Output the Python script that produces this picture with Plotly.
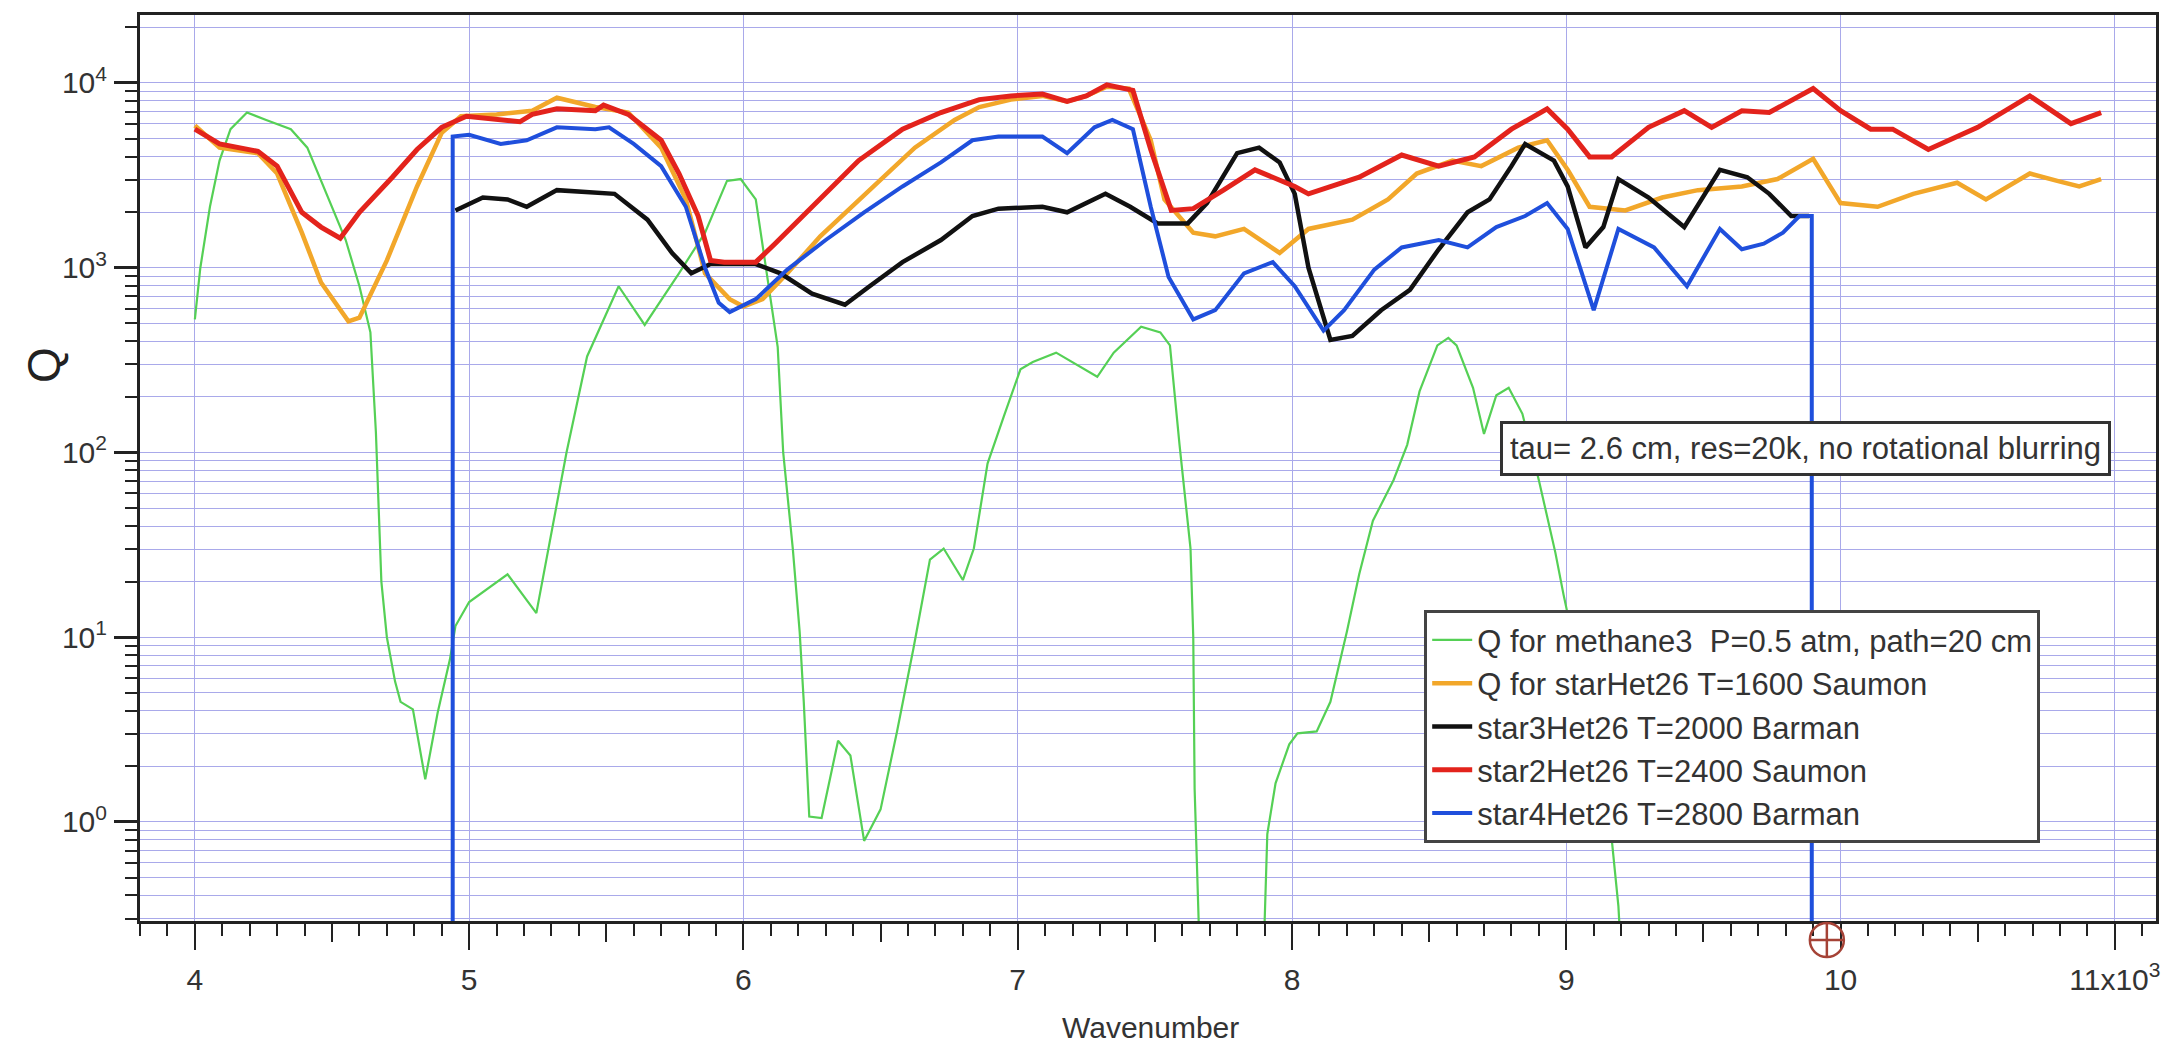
import plotly.graph_objects as go

# ---------------- data (wavenumber in cm^-1, Q) ----------------
green_x = [4000, 4020, 4055, 4090, 4130, 4190, 4260, 4350, 4410, 4455, 4500, 4550, 4600, 4640, 4660,
           4675, 4680, 4700, 4730, 4750, 4795, 4840, 4885, 4930, 4950, 5000, 5075, 5140, 5245, 5305,
           5355, 5430, 5545, 5640, 5765, 5860, 5940, 5990, 6045, 6125, 6145, 6180, 6205, 6220, 6240,
           6285, 6345, 6390, 6440, 6500, 6560, 6620, 6680, 6730, 6800, 6840, 6890, 6950, 7010, 7055,
           7140, 7290, 7350, 7450, 7520, 7555, 7590, 7630, 7640, 7645, 7680, 7880, 7910, 7940, 7990,
           8020, 8090, 8140, 8200, 8245, 8295, 8370, 8420, 8465, 8530, 8570, 8600, 8660, 8700, 8745,
           8790, 8840, 8900, 8960, 8990, 9080, 9160, 9190, 9230]
green_q = [525, 1000, 2138, 3802, 5623, 6918, 6310, 5623, 4467, 3090, 2138, 1413, 794, 447, 129,
           30.1, 20.0, 10.0, 5.75, 4.47, 4.07, 1.70, 3.89, 7.59, 11.5, 15.5, 18.6, 21.9, 13.5, 40.7,
           100, 331, 794, 490, 933, 1549, 2951, 3020, 2344, 372, 100, 30.2, 10.7, 4.47, 1.07,
           1.05, 2.75, 2.29, 0.79, 1.17, 3.09, 8.71, 26.3, 30.2, 20.4, 30.2, 87.1, 158, 282, 309,
           347, 257, 347, 479, 447, 380, 110, 30.2, 10.0, 1.51, 0.03, 0.03, 0.86, 1.62, 2.63,
           3.02, 3.09, 4.47, 10.7, 21.9, 42.7, 70.8, 110, 214, 380, 417, 380, 224, 126, 204,
           224, 162, 70.8, 28.8, 17.0, 4.0, 0.98, 0.35, 0.03]

orange_x = [4000, 4090, 4230, 4300, 4390, 4460, 4560, 4600, 4700, 4810, 4900, 4970, 5100, 5230, 5320,
            5460, 5580, 5700, 5790, 5860, 5950, 6000, 6070, 6160, 6280, 6395, 6510, 6625, 6770, 6860,
            6975, 7090, 7180, 7250, 7325, 7405, 7485, 7535, 7640, 7720, 7825, 7955, 8060, 8220, 8350,
            8455, 8585, 8690, 8825, 8930, 9005, 9085, 9215, 9350, 9480, 9640, 9770, 9900, 10000, 10135,
            10265, 10425, 10530, 10690, 10790, 10870, 10950]
orange_q = [5888, 4467, 4169, 3236, 1549, 832, 513, 537, 1096, 2754, 5370, 6607, 6761, 7079, 8318,
            7413, 6918, 4467, 2344, 933, 676, 617, 676, 933, 1479, 2138, 3090, 4467, 6310, 7413,
            8128, 8511, 7943, 8511, 9550, 9333, 4898, 2344, 1549, 1479, 1622, 1202, 1622, 1820, 2344,
            3236, 3802, 3548, 4467, 4898, 3388, 2138, 2042, 2399, 2630, 2754, 3020, 3890, 2239, 2138,
            2512, 2884, 2344, 3236, 2951, 2754, 3020]

black_x = [4950, 5050, 5140, 5210, 5320, 5460, 5530, 5650, 5740, 5810, 5880, 6045, 6135, 6250, 6370,
           6460, 6580, 6720, 6835, 6930, 7090, 7180, 7320, 7410, 7510, 7620, 7690, 7800, 7880, 7955,
           8010, 8060, 8140, 8220, 8325, 8430, 8535, 8640, 8720, 8800, 8850, 8955, 9005, 9070, 9135,
           9190, 9300, 9430, 9505, 9560, 9660, 9740, 9820, 9885]
black_q = [2042, 2399, 2344, 2138, 2630, 2570, 2512, 1820, 1202, 933, 1047, 1047, 933, 724, 631,
           794, 1072, 1413, 1905, 2089, 2138, 1995, 2512, 2138, 1738, 1738, 2239, 4169, 4467, 3715,
           2512, 1000, 407, 427, 589, 759, 1259, 1995, 2344, 3548, 4677, 3802, 2754, 1288, 1660,
           3020, 2399, 1660, 2512, 3388, 3090, 2512, 1905, 1905]

red_x = [4000, 4090, 4230, 4300, 4390, 4460, 4530, 4600, 4720, 4810, 4900, 4990, 5185, 5230, 5320,
         5460, 5490, 5580, 5700, 5765, 5835, 5880, 5930, 6045, 6115, 6280, 6420, 6580, 6720, 6860,
         6975, 7090, 7180, 7250, 7325, 7420, 7485, 7560, 7640, 7750, 7865, 8010, 8060, 8245, 8400,
         8535, 8665, 8800, 8930, 9005, 9085, 9165, 9300, 9430, 9530, 9640, 9740, 9900, 10000, 10110,
         10190, 10320, 10500, 10690, 10840, 10950]
red_q = [5623, 4677, 4266, 3548, 1995, 1660, 1445, 1995, 3090, 4365, 5754, 6607, 6166, 6761, 7244,
         7079, 7586, 6761, 4898, 3236, 1905, 1096, 1072, 1072, 1349, 2344, 3802, 5623, 6918, 8128,
         8511, 8710, 7943, 8511, 9772, 9120, 4365, 2042, 2089, 2630, 3388, 2754, 2512, 3090, 4074,
         3548, 3981, 5623, 7244, 5623, 3981, 3981, 5754, 7079, 5754, 7079, 6918, 9333, 7079, 5623,
         5623, 4365, 5754, 8511, 6026, 6918]

blue_x = [4940, 4940, 5000, 5115, 5210, 5320, 5460, 5510, 5600, 5700, 5790, 5860, 5910, 5950, 6045,
          6160, 6300, 6440, 6580, 6720, 6835, 6930, 7090, 7180, 7280, 7345, 7420, 7485, 7550, 7640,
          7720, 7825, 7930, 8010, 8115, 8190, 8300, 8400, 8535, 8640, 8745, 8850, 8930, 9005, 9100,
          9190, 9320, 9440, 9560, 9640, 9720, 9790, 9850, 9895, 9895]
blue_q = [0.001, 5129, 5248, 4677, 4898, 5754, 5623, 5754, 4677, 3548, 2138, 1000, 646, 575, 676,
          977, 1413, 1995, 2754, 3715, 4898, 5129, 5129, 4169, 5754, 6310, 5623, 2138, 891, 525,
          589, 933, 1072, 794, 457, 589, 977, 1288, 1413, 1288, 1660, 1905, 2239, 1622, 589,
          1622, 1288, 794, 1622, 1259, 1349, 1549, 1905, 1905, 0.001]

cursor_x = 9950   # graph cursor position (wavenumber)

names = ["Q for methane3  P=0.5 atm, path=20 cm",
         "Q for starHet26 T=1600 Saumon",
         "star3Het26 T=2000 Barman",
         "star2Het26 T=2400 Saumon",
         "star4Het26 T=2800 Barman"]

x_major = [4000, 5000, 6000, 7000, 8000, 9000, 10000, 11000]
x_major_text = ["4", "5", "6", "7", "8", "9", "10", "11x10<sup>3</sup>"]
y_major = [1, 10, 100, 1000, 10000]
y_major_text = ["10<sup>0</sup>", "10<sup>1</sup>", "10<sup>2</sup>", "10<sup>3</sup>", "10<sup>4</sup>"]

# ---------------- styling ----------------
FONT = "Liberation Sans, Arial, Helvetica, sans-serif"
GRID = "#a9a9ea"
AX = "#222222"
CURSOR = "#a54236"

x_range = [3800, 11150]
y_range = [-0.536, 4.368]

x_minor = [v for v in range(3800, 11150, 100) if v % 1000 != 0 and v % 500 != 0]
x_half = [v for v in range(4500, 11150, 1000)]
y_minor = [m * 10 ** e for e in range(-1, 5) for m in range(2, 10)]

fig = go.Figure()

series = [
    (green_x, green_q, "#55d055", 2.2),
    (orange_x, orange_q, "#f2a72a", 4.5),
    (black_x, black_q, "#111111", 4.5),
    (red_x, red_q, "#e3231c", 5),
    (blue_x, blue_q, "#1f4fdc", 4),
]
for (xs, qs, col, w), nm in zip(series, names):
    fig.add_trace(go.Scatter(x=xs, y=qs, mode="lines", name=nm,
                             line=dict(color=col, width=w), hoverinfo="skip"))

# invisible traces bound to the overlay axes carrying the long major / half-unit ticks
for ax in ("x2", "x3"):
    fig.add_trace(go.Scatter(x=[x_range[0]], y=[1], xaxis=ax, mode="markers",
                             marker=dict(opacity=0), showlegend=False, hoverinfo="skip"))

# cursor marker (circle with cross) sitting just under the x axis
cx = (cursor_x - x_range[0]) / (x_range[1] - x_range[0])
cur = dict(xref="paper", yref="paper", xsizemode="pixel", ysizemode="pixel",
           xanchor=cx, yanchor=0, line=dict(color=CURSOR, width=2.5), layer="above")
shapes = [
    dict(type="circle", x0=-17, x1=17, y0=-36, y1=-2, **cur),
    dict(type="line", x0=-17, x1=17, y0=-19, y1=-19, **cur),
    dict(type="line", x0=0, x1=0, y0=-36, y1=-2, **cur),
]

overlay_common = dict(overlaying="x", matches="x", anchor="y", side="bottom", range=x_range,
                      tickmode="array", ticks="outside", tickwidth=2, tickcolor=AX,
                      showticklabels=False, showgrid=False, showline=False, zeroline=False)

fig.update_layout(
    width=2179, height=1043,
    margin=dict(l=140, r=23, t=15, b=122),
    paper_bgcolor="white", plot_bgcolor="white",
    font=dict(family=FONT, size=30, color="#333333"),
    showlegend=True,
    shapes=shapes,
    legend=dict(x=0.637, y=0.343, xanchor="left", yanchor="top",
                bgcolor="white", bordercolor="#444444", borderwidth=3,
                font=dict(family=FONT, size=31, color="#333333"),
                tracegroupgap=0, itemwidth=40),
    xaxis=dict(type="linear", range=x_range, tickmode="array", tickvals=x_major, ticktext=x_major_text,
               ticks="outside", ticklen=16, tickwidth=2, tickcolor=AX,
               showgrid=True, gridcolor=GRID, gridwidth=1.4, zeroline=False,
               showline=True, linecolor=AX, linewidth=3, mirror=True,
               ticklabelstandoff=14,
               minor=dict(tickmode="array", tickvals=x_minor, ticks="outside", ticklen=12,
                          tickwidth=2, tickcolor=AX, showgrid=False)),
    xaxis2=dict(tickvals=x_major, ticklen=28, **overlay_common),
    xaxis3=dict(tickvals=x_half, ticklen=20, **overlay_common),
    yaxis=dict(type="log", range=y_range, tickmode="array", tickvals=y_major, ticktext=y_major_text,
               ticks="outside", ticklen=23, tickwidth=3, tickcolor=AX,
               showgrid=True, gridcolor=GRID, gridwidth=1.4, zeroline=False,
               showline=True, linecolor=AX, linewidth=3, mirror=True,
               ticklabelstandoff=1,
               minor=dict(tickmode="array", tickvals=y_minor, ticks="outside", ticklen=12,
                          tickwidth=2, tickcolor=AX, showgrid=True, gridcolor=GRID, gridwidth=1.4)),
    annotations=[
        dict(text="Q", xref="paper", yref="paper", x=-0.048, y=0.614, textangle=-90,
             showarrow=False, font=dict(family=FONT, size=46, color="#222222"),
             xanchor="center", yanchor="middle"),
        dict(text="Wavenumber", xref="paper", yref="paper", x=0.501, y=-0.117,
             showarrow=False, font=dict(family=FONT, size=30, color="#333333"),
             xanchor="center", yanchor="middle"),
        dict(text="tau= 2.6 cm, res=20k, no rotational blurring", xref="paper", yref="paper",
             x=0.826, y=0.522, xanchor="center", yanchor="middle", showarrow=False,
             bgcolor="white", bordercolor="#333333", borderwidth=3, borderpad=7,
             font=dict(family=FONT, size=31, color="#333333")),
    ],
)

fig.write_html("out.html")
